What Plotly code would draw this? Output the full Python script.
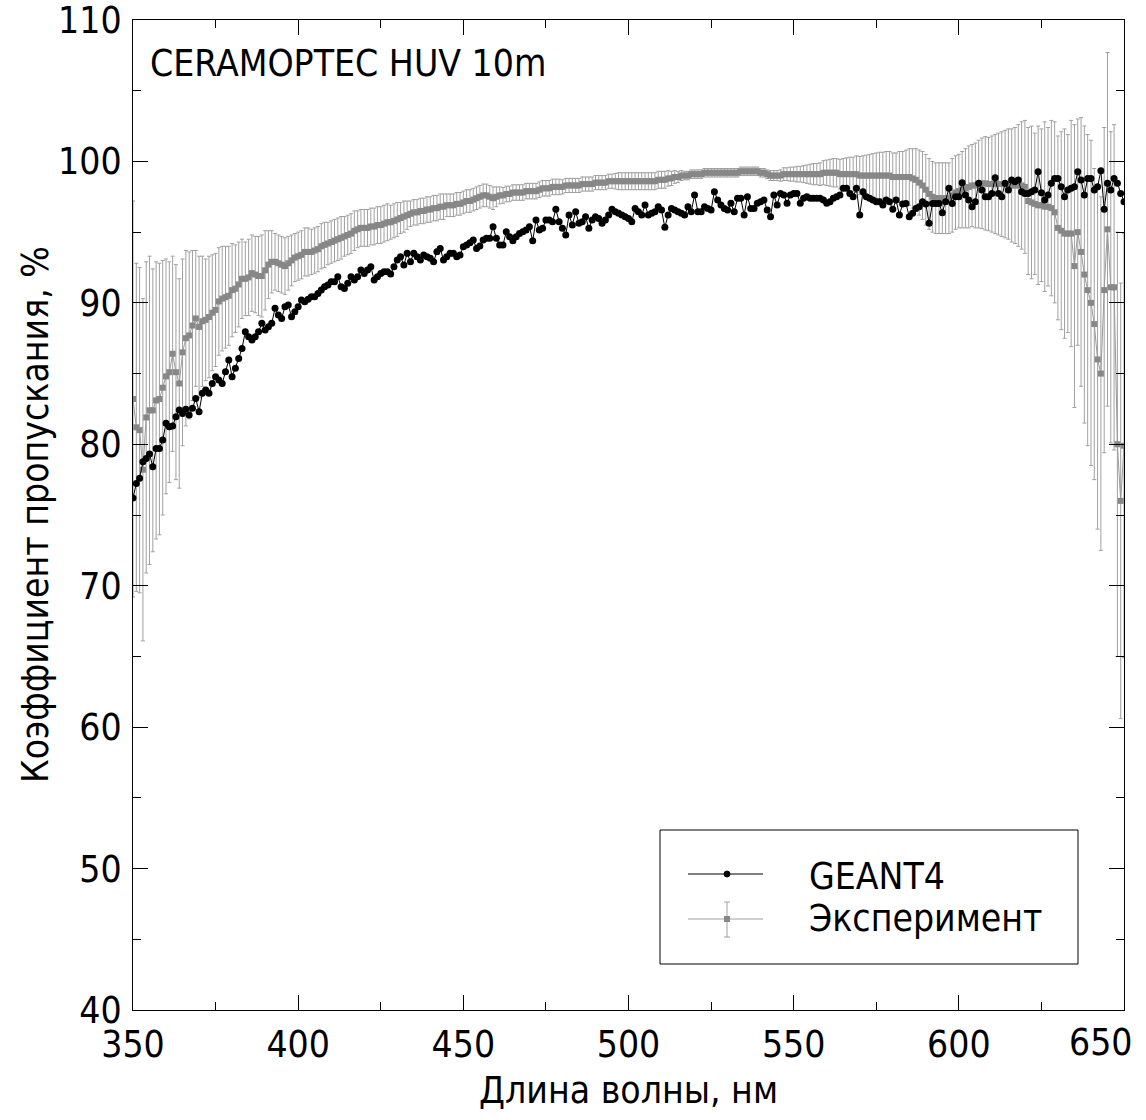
import plotly.graph_objects as go

wavelength = list(range(350, 651))

geant4 = [
    76.2,
    77.23, 77.59, 78.76, 79.0, 79.31, 78.41, 79.71, 79.71, 80.30, 81.48,
    81.24, 81.29, 81.95, 82.42, 82.18, 82.47, 82.07, 82.54, 83.24, 82.30,
    83.60, 83.83, 83.60, 84.30, 84.78, 84.54, 84.30, 85.13, 85.96, 84.78,
    85.37, 86.07, 86.78, 87.96, 87.61, 87.37, 87.61, 87.96, 88.55, 88.08,
    88.31, 88.55, 89.61, 89.14, 88.90, 89.73, 89.85, 89.02, 89.37, 89.73,
    90.20, 90.08, 90.25, 90.43, 90.43, 90.67, 90.91, 91.14, 91.26, 91.49,
    91.49, 91.85, 91.14, 91.02, 91.38, 91.85, 91.61, 91.85, 92.32,
    92.08, 92.32, 92.56, 91.61, 91.85, 92.08, 92.20, 92.20, 92.04, 92.56,
    93.03, 93.26, 92.67, 93.50, 92.91, 93.50, 93.26, 93.03, 93.38, 93.26,
    93.15, 92.91, 93.62, 93.85, 93.03, 93.26, 93.50, 93.50, 93.26, 93.38,
    93.97, 94.09, 94.25, 94.44, 93.85, 94.02, 94.44, 94.56, 94.56, 95.39,
    94.56, 94.09, 94.09, 95.03, 94.68, 94.39, 94.68, 94.91, 95.03, 95.15,
    95.39, 94.39, 95.86, 95.15, 95.27, 95.86, 95.86, 95.74, 96.61, 95.74,
    95.27, 94.80, 96.21, 95.50, 96.45, 95.62, 95.74, 96.09, 95.27, 95.86,
    96.09, 95.97, 95.62, 95.86, 96.21, 96.61, 96.45, 96.33, 96.21, 96.09,
    95.97,
    95.74, 96.68, 96.45, 96.21, 96.92, 96.21, 96.33, 96.45, 96.80, 96.56,
    95.34, 96.21, 96.68, 96.56, 96.45, 96.33, 96.21, 96.80, 96.45, 97.62,
    96.45, 96.45, 96.80, 96.68, 96.56, 97.86, 97.27, 96.92, 96.68, 96.56,
    97.04, 96.45, 97.39, 97.39, 96.21, 97.51, 96.68, 96.68, 97.04, 97.15,
    97.27, 96.56, 96.09, 97.62, 96.92, 97.74, 97.62, 97.04, 97.62, 97.74,
    97.74, 97.04, 97.39, 97.51, 97.39, 97.39, 97.39, 97.39, 97.27, 97.04,
    97.15, 97.39, 97.51, 97.62, 98.10, 98.10, 97.74, 97.51, 98.10, 96.21,
    97.86, 97.51, 97.39, 97.27, 97.15, 97.15, 96.92, 97.27, 97.15,
    96.61, 97.27, 96.21,
    96.99, 97.03, 96.09, 96.33, 96.68, 96.80, 97.15, 96.99, 95.62, 97.03,
    97.03, 97.03, 96.37, 97.15, 98.10, 97.03, 97.51, 97.51, 98.50, 97.62,
    97.27, 96.80, 97.15, 98.45, 97.98, 97.51, 97.51, 97.74, 98.85, 97.74,
    97.51, 98.45, 97.98, 98.68, 98.57, 98.68, 97.86, 97.74, 97.74, 97.86,
    97.98, 99.27, 97.79, 97.27, 97.62, 98.45, 98.80, 98.80, 98.21, 97.51,
    97.98, 98.10, 98.21, 99.27, 98.68, 97.62, 98.80, 98.80, 97.98, 98.21,
    99.34, 96.61, 98.45, 97.98, 98.80, 98.45, 97.74, 97.15,
]

experiment = [
    83.2, 81.2, 81.0, 78.2, 81.9, 82.4, 82.4, 83.1, 83.2, 84.0,
    84.8, 85.1, 86.4, 85.1, 84.3, 86.5, 87.5, 87.7, 88.4, 88.9,
    88.3, 88.7, 88.8, 89.0, 89.3, 89.5, 90.1, 90.3, 90.4, 90.5,
    90.9, 91.0, 91.3, 91.7, 91.7, 91.8, 92.1, 92.0, 91.9, 91.9,
    92.3, 92.7, 92.9, 92.9, 92.8, 92.7, 92.6, 92.8, 93.0, 93.2,
    93.3, 93.4, 93.6, 93.6, 93.6, 93.7, 93.8, 94.0, 94.1, 94.2,
    94.3, 94.4, 94.5, 94.6, 94.7, 94.8, 94.9, 95.1, 95.2, 95.3,
    95.3,
    95.3, 95.4, 95.4, 95.5, 95.5, 95.6, 95.7, 95.7, 95.8, 95.9,
    96.0, 96.1, 96.2, 96.3, 96.4, 96.4, 96.5, 96.5, 96.6, 96.6,
    96.7, 96.7, 96.8, 96.8, 96.9, 96.9, 96.9, 97.0, 97.0, 97.1,
    97.2, 97.2, 97.3, 97.4, 97.5, 97.6, 97.6, 97.5, 97.4, 97.5,
    97.6, 97.6, 97.7, 97.7, 97.8, 97.8, 97.8, 97.8, 97.9, 97.9,
    97.9, 97.9, 98.0, 98.1, 98.1, 98.1, 98.2, 98.2, 98.2, 98.2,
    98.3, 98.3, 98.3, 98.3, 98.3, 98.4, 98.4, 98.4, 98.4, 98.5,
    98.5, 98.5, 98.5, 98.6, 98.6, 98.6, 98.6, 98.6, 98.6, 98.6,
    98.6, 98.6, 98.6, 98.6, 98.6, 98.6, 98.6, 98.6, 98.7, 98.7,
    98.7, 98.8, 98.8, 98.9, 98.9, 99.0, 99.0, 99.0, 99.1, 99.1,
    99.1, 99.1, 99.2, 99.2, 99.2, 99.2, 99.2, 99.2, 99.2, 99.2,
    99.2, 99.2, 99.2, 99.3, 99.3, 99.3, 99.3, 99.3, 99.3, 99.2,
    99.2, 99.1, 99.0, 99.0, 99.0, 99.0, 99.1, 99.1, 99.1, 99.1,
    99.1, 99.1, 99.1, 99.1, 99.1, 99.1, 99.1, 99.1, 99.2, 99.2,
    99.2, 99.2, 99.2, 99.1, 99.1, 99.1, 99.1, 99.1, 99.1, 99.0,
    99.0, 99.0, 99.0, 99.0, 99.0, 99.0, 99.0, 99.0, 99.0, 98.9,
    98.9, 98.9, 98.9, 98.9, 98.9, 98.8, 98.7, 98.5, 98.3, 98.0,
    97.7, 97.5, 97.4, 97.4, 97.4, 97.4, 97.4, 97.6, 97.8, 97.9,
    98.0, 98.1, 98.2, 98.3, 98.3, 98.4, 98.45, 98.45, 98.4, 98.4,
    98.4, 98.4, 98.4, 98.4, 98.4, 98.3, 98.3, 98.3, 98.3, 98.2,
    97.2, 97.1, 97.0, 96.9, 96.9, 96.8, 96.8, 96.7, 96.4, 95.3,
    95.1, 94.9, 94.9, 94.9, 92.6, 95.0, 93.6, 92.0, 90.9, 90.0,
    88.5, 86.0, 85.0, 90.9, 95.2, 91.1, 91.1, 80.0, 76.0, 79.9,
]

experiment_err = [
    14.0, 11.6, 11.5, 12.1, 11.0, 10.9, 10.0, 9.8, 9.6, 9.0,
    8.3, 7.8, 6.9, 7.6, 7.4, 6.6, 6.2, 5.9, 5.3, 4.8,
    5.0, 4.6, 4.3, 4.3, 4.1, 4.0, 3.8, 3.7, 3.6, 3.5,
    3.3, 3.1, 3.0, 2.8, 2.6, 2.7, 2.7, 2.7, 2.8, 2.9,
    2.8, 2.4, 2.2, 2.0, 2.0, 2.0, 2.0, 1.9, 1.8, 1.7,
    1.7, 1.7, 1.7, 1.7, 1.6, 1.6, 1.6, 1.6, 1.6, 1.5,
    1.5, 1.5, 1.5, 1.5, 1.4, 1.4, 1.4, 1.4, 1.3, 1.3,
    1.3, 1.3, 1.3, 1.3, 1.3, 1.3, 1.3, 1.3, 1.2, 1.2,
    1.2, 1.1, 1.1, 1.0, 0.9, 0.9, 0.9, 0.9, 0.9, 0.9,
    0.9, 0.9, 0.9, 0.9, 0.9, 0.8, 0.8, 0.8, 0.8, 0.8,
    0.8, 0.8, 0.8, 0.8, 0.8, 0.8, 0.8, 0.8, 0.8, 0.8,
    0.7, 0.6, 0.55, 0.55, 0.55, 0.55, 0.55, 0.55, 0.55, 0.55,
    0.55, 0.55, 0.55, 0.55, 0.55, 0.55, 0.55, 0.55, 0.55, 0.55,
    0.5, 0.5, 0.5, 0.5, 0.5, 0.5, 0.5, 0.5, 0.5, 0.5,
    0.5, 0.5, 0.5, 0.5, 0.5, 0.5, 0.55, 0.6, 0.6, 0.6,
    0.6, 0.6, 0.6, 0.6, 0.6, 0.6, 0.6, 0.6, 0.6, 0.6,
    0.6, 0.6, 0.55, 0.5, 0.45, 0.4, 0.35, 0.3, 0.3, 0.3,
    0.3, 0.3, 0.3, 0.3, 0.3, 0.3, 0.3, 0.3, 0.3, 0.3,
    0.3, 0.3, 0.3, 0.3, 0.3, 0.3, 0.3, 0.3, 0.3, 0.3,
    0.3, 0.3, 0.3, 0.35, 0.35, 0.35, 0.4, 0.45, 0.45, 0.5,
    0.5, 0.55, 0.55, 0.6, 0.65, 0.7, 0.75, 0.75, 0.8, 0.85,
    0.9, 0.95, 1.0, 1.0, 1.05, 1.1, 1.15, 1.2, 1.2, 1.3,
    1.35, 1.4, 1.45, 1.5, 1.55, 1.6, 1.65, 1.65, 1.7, 1.7,
    1.7, 1.7, 1.8, 1.8, 1.9, 2.0, 2.1, 2.2, 2.3, 2.4,
    2.5, 2.5, 2.5, 2.5, 2.5, 2.5, 2.5, 2.5, 2.6, 2.6,
    2.6, 2.7, 2.8, 2.9, 2.9, 3.0, 3.1, 3.2, 3.3, 3.3,
    3.4, 3.5, 3.6, 3.7, 3.8, 3.9, 4.0, 4.1, 4.3, 4.5,
    4.7, 5.2, 5.4, 5.0, 5.6, 5.4, 6.0, 5.6, 6.2, 6.4,
    6.5, 7.0, 7.4, 7.0, 8.0, 10.0, 8.0, 9.5, 10.5, 11.0,
    11.5, 11.0, 12.0, 12.5, 11.5, 12.5, 11.0, 11.5, 15.0, 15.4,
    15.0,
]

x_ticks = [350, 400, 450, 500, 550, 600, 650]
x_ticktext = ["350", "400", "450", "500", "550", "600", ""]
y_ticks = [40, 50, 60, 70, 80, 90, 100, 110]

FONT = "DejaVu Sans Condensed, DejaVu Sans, sans-serif"
FS = 37

fig = go.Figure()

fig.add_trace(go.Scatter(
    x=wavelength, y=experiment, mode="lines+markers", name="Эксперимент",
    line=dict(color="#9a9a9a", width=1),
    marker=dict(symbol="square", size=6, color="#878787"),
    error_y=dict(type="data", array=experiment_err, visible=True,
                 color="#a0a0a0", thickness=1, width=2),
    showlegend=False,
))
fig.add_trace(go.Scatter(
    x=wavelength, y=geant4, mode="lines+markers", name="GEANT4",
    line=dict(color="black", width=1),
    marker=dict(symbol="circle", size=7, color="black"),
    showlegend=False,
))

L, R, T, B = 133, 1124, 20, 1010
def px(xp):
    return (xp - L) / (R - L)
def py(yp):
    return (B - yp) / (B - T)

shapes = [
    dict(type="rect", xref="paper", yref="paper", x0=px(660), x1=px(1078), y0=py(964), y1=py(830),
         line=dict(color="black", width=1), fillcolor="white", layer="above"),
    dict(type="line", xref="paper", yref="paper", x0=px(688), x1=px(763), y0=py(874), y1=py(874),
         line=dict(color="black", width=1), layer="above"),
    dict(type="circle", xref="paper", yref="paper", x0=px(724), x1=px(730), y0=py(877), y1=py(871),
         line=dict(color="black", width=1), fillcolor="black", layer="above"),
    dict(type="line", xref="paper", yref="paper", x0=px(688), x1=px(763), y0=py(919), y1=py(919),
         line=dict(color="#a0a0a0", width=1), layer="above"),
    dict(type="line", xref="paper", yref="paper", x0=px(727), x1=px(727), y0=py(902), y1=py(937),
         line=dict(color="#a0a0a0", width=1), layer="above"),
    dict(type="line", xref="paper", yref="paper", x0=px(724), x1=px(730), y0=py(902), y1=py(902),
         line=dict(color="#a0a0a0", width=1), layer="above"),
    dict(type="line", xref="paper", yref="paper", x0=px(724), x1=px(730), y0=py(937), y1=py(937),
         line=dict(color="#a0a0a0", width=1), layer="above"),
    dict(type="rect", xref="paper", yref="paper", x0=px(724), x1=px(730), y0=py(922), y1=py(916),
         line=dict(color="#878787", width=0), fillcolor="#878787", layer="above"),
]

annotations = [
    dict(text="CERAMOPTEC HUV 10m", xref="paper", yref="paper", x=px(148), y=py(64),
         xanchor="left", yanchor="middle", showarrow=False, font=dict(family=FONT, size=FS, color="black")),
    dict(text="GEANT4", xref="paper", yref="paper", x=px(807), y=py(876),
         xanchor="left", yanchor="middle", showarrow=False, font=dict(family=FONT, size=FS, color="black")),
    dict(text="Эксперимент", xref="paper", yref="paper", x=px(807), y=py(918),
         xanchor="left", yanchor="middle", showarrow=False, font=dict(family=FONT, size=FS, color="black")),
    dict(text="Длина волны, нм", xref="paper", yref="paper", x=px(628), y=py(1090),
         xanchor="center", yanchor="middle", showarrow=False, font=dict(family=FONT, size=FS, color="black")),
    dict(text="Коэффициент пропускания, %", xref="paper", yref="paper", x=px(35), y=0.5,
         xanchor="center", yanchor="middle", textangle=-90, showarrow=False,
         font=dict(family=FONT, size=FS, color="black")),
    dict(text="650", xref="paper", yref="paper", x=px(1101), y=py(1042),
         xanchor="center", yanchor="middle", showarrow=False, font=dict(family=FONT, size=FS, color="black")),
]

axis_common = dict(
    showgrid=False, zeroline=False, showline=True, linecolor="black", linewidth=1,
    ticks="inside", ticklen=15, tickwidth=1, tickcolor="black", mirror="ticks",
    tickfont=dict(family=FONT, size=FS, color="black"), automargin=False,
    ticklabeloverflow="allow",
)

fig.update_layout(
    width=1146, height=1120,
    margin=dict(l=L, r=1146 - R, t=T, b=1120 - B),
    paper_bgcolor="white", plot_bgcolor="white",
    xaxis=dict(range=[350, 650], tickvals=x_ticks, ticktext=x_ticktext,
               minor=dict(dtick=25, ticks="inside", ticklen=8, tickcolor="black", tickwidth=1),
               ticklabelstandoff=2, **axis_common),
    yaxis=dict(range=[40, 110], tickvals=y_ticks,
               minor=dict(dtick=5, ticks="inside", ticklen=8, tickcolor="black", tickwidth=1),
               ticklabelstandoff=3, **axis_common),
    shapes=shapes, annotations=annotations,
)

fig.write_html(
    "out.html",
    config={"displayModeBar": False},
    post_script="document.body.style.margin='0';document.body.style.padding='0';",
)
